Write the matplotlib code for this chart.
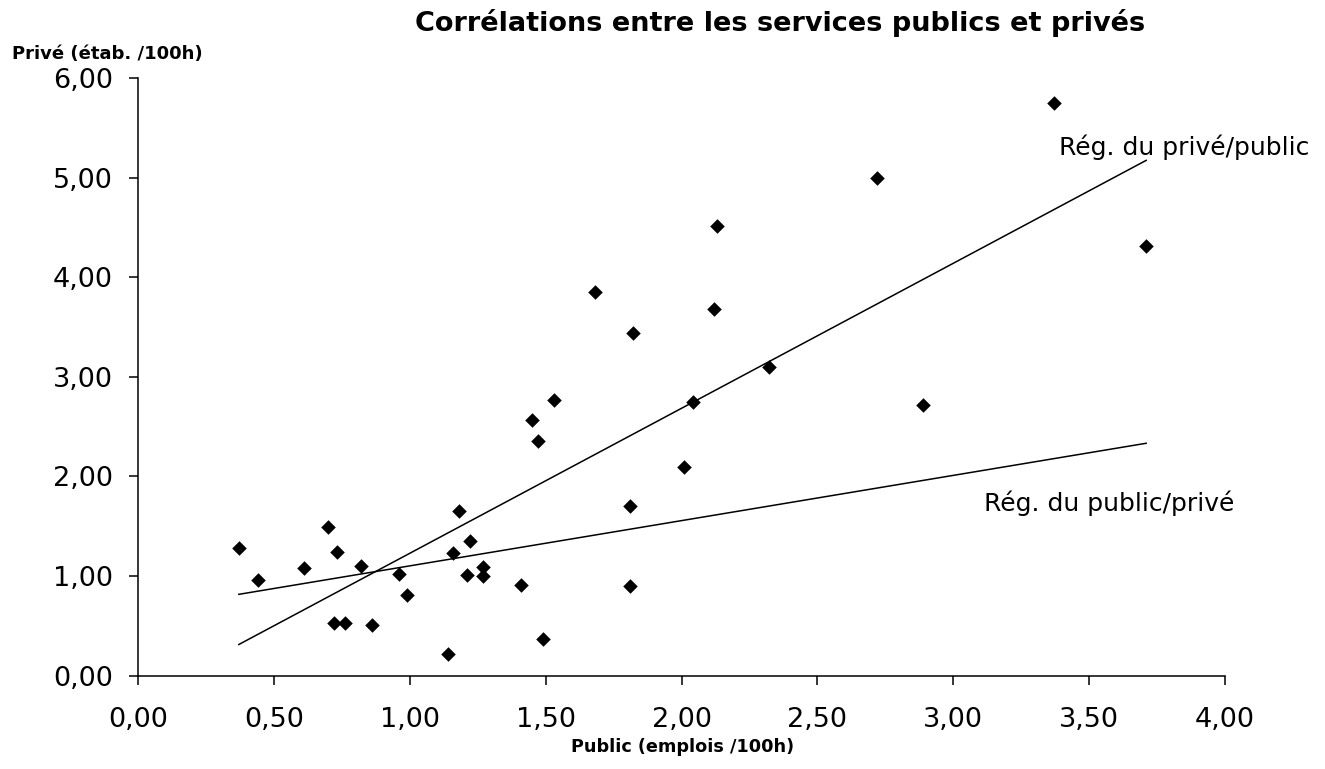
import numpy as np
import matplotlib
matplotlib.use("Agg")
import matplotlib.pyplot as plt
from matplotlib.ticker import FuncFormatter

# valeurs
public = [0.37, 0.44, 0.61, 0.70, 0.73, 0.72, 0.76, 0.82, 0.86, 0.96, 0.99,
          1.14, 1.18, 1.16, 1.22, 1.21, 1.27, 1.27, 1.41, 1.49, 1.45, 1.47,
          1.53, 1.68, 1.82, 1.81, 1.81, 2.01, 2.04, 2.12, 2.13, 2.32, 2.72,
          2.89, 3.37, 3.71]
prive = [1.28, 0.96, 1.08, 1.49, 1.24, 0.53, 0.53, 1.10, 0.51, 1.02, 0.81,
         0.22, 1.65, 1.23, 1.35, 1.01, 1.09, 1.00, 0.91, 0.37, 2.57, 2.36,
         2.77, 3.85, 3.44, 1.70, 0.90, 2.10, 2.75, 3.68, 4.51, 3.10, 5.00,
         2.72, 5.75, 4.31]

# droites de regression (ordonnee a l'origine, pente)
reg_names = ["Rég. du privé/public", "Rég. du public/privé"]
reg_intercepts = [-0.225, 0.649]
reg_slopes = [1.455, 0.454]

plt.rcParams["font.family"] = ["DejaVu Sans"]

fig = plt.figure(figsize=(13.25, 7.69), dpi=100)
ax = fig.add_axes([0.1044, 0.1213, 0.8201, 0.7773])

ax.scatter(public, prive, marker="D", s=55, color="black", zorder=3, linewidths=0)

xs = np.array([min(public), max(public)])
for a, b in zip(reg_intercepts, reg_slopes):
    ax.plot(xs, a + b * xs, color="black", lw=1.1)

ax.text(3.85, 5.30, reg_names[0], fontsize=18, ha="center", va="center")
ax.text(3.574, 1.73, reg_names[1], fontsize=18, ha="center", va="center")

ax.set_xlim(0, 4)
ax.set_ylim(0, 6)
ax.set_xticks(np.arange(0, 4.01, 0.5))
ax.set_yticks(np.arange(0, 6.01, 1))
fmt = FuncFormatter(lambda v, p: f"{v:.2f}".replace(".", ","))
ax.xaxis.set_major_formatter(fmt)
ax.yaxis.set_major_formatter(fmt)

for s in ["top", "right"]:
    ax.spines[s].set_visible(False)
for s in ["left", "bottom"]:
    ax.spines[s].set_linewidth(1.1)
ax.tick_params(axis="both", direction="out", length=6.5, width=1.1, labelsize=19.5)
ax.tick_params(axis="x", pad=16)
ax.tick_params(axis="y", pad=12)

fig.text(0.589, 0.970, "Corrélations entre les services publics et privés",
         fontsize=19.5, fontweight="bold", ha="center", va="center")
fig.text(0.009, 0.930, "Privé (étab. /100h)", fontsize=13, fontweight="bold",
         ha="left", va="center")
fig.text(0.515, 0.028, "Public (emplois /100h)", fontsize=12.7, fontweight="bold",
         ha="center", va="center")

fig.savefig("out.png", dpi=100)
